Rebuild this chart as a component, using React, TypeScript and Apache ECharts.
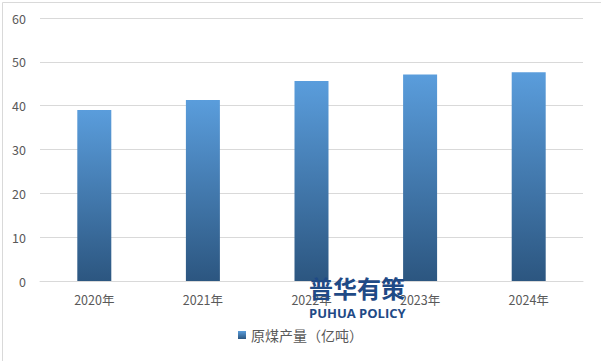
import React, { useEffect, useRef } from "react";
import * as echarts from "echarts";

const categories = ["2020年", "2021年", "2022年", "2023年", "2024年"];
const seriesName = "原煤产量（亿吨）";
const values = [39.0, 41.3, 45.6, 47.1, 47.6];
const yTicks = { min: 0, max: 60, interval: 10 };

export default function App() {
  const ref = useRef<HTMLDivElement>(null);
  useEffect(() => {
    const chart = echarts.init(ref.current!, null, { renderer: "svg" });
    const font = "'Microsoft YaHei', 'Noto Sans CJK SC', 'DejaVu Sans', sans-serif";
    chart.setOption({
      animation: false,
      backgroundColor: "#ffffff",
      textStyle: { fontFamily: font },
      grid: { left: 40, right: 18, top: 18, bottom: 80, containLabel: false },
      legend: {
        bottom: 14,
        left: "center",
        itemWidth: 8,
        itemHeight: 8,
        itemGap: 6,
        icon: "rect",
        textStyle: { fontSize: 14, color: "#595959", fontFamily: font },
        data: [seriesName],
      },
      xAxis: {
        type: "category",
        data: categories,
        axisLine: { lineStyle: { color: "#d9d9d9" } },
        axisTick: { show: false },
        axisLabel: { color: "#595959", fontSize: 12.5, margin: 12 },
      },
      yAxis: {
        type: "value",
        min: yTicks.min,
        max: yTicks.max,
        interval: yTicks.interval,
        axisLine: { show: false },
        axisTick: { show: false },
        axisLabel: { color: "#595959", fontSize: 12.5, margin: 14 },
        splitLine: { lineStyle: { color: "#d9d9d9" } },
      },
      series: [
        {
          name: seriesName,
          type: "bar",
          data: values,
          barWidth: 34,
          itemStyle: {
            color: new echarts.graphic.LinearGradient(0, 0, 0, 1, [
              { offset: 0, color: "#5a9ddc" },
              { offset: 1, color: "#2c5680" },
            ]),
          },
        },
      ],
      graphic: [
        {
          type: "rect",
          left: 0,
          top: 0,
          shape: { width: 600, height: 360 },
          style: { fill: "none", stroke: "#d9d9d9", lineWidth: 1 },
          silent: true,
          z: 100,
        },
        {
          type: "text",
          left: 309,
          top: 275,
          style: {
            text: "普华有策",
            fontSize: 24,
            fontWeight: "bold",
            fill: "#1f4a86",
            fontFamily: "'Noto Sans CJK SC', sans-serif",
          },
          z: 100,
        },
        {
          type: "text",
          left: 309,
          top: 306,
          style: {
            text: "PUHUA POLICY",
            fontSize: 13,
            fontWeight: "bold",
            fill: "#1f4a86",
            fontFamily: "'Open Sans', 'DejaVu Sans', sans-serif",
          },
          z: 100,
        },
      ],
    });
    return () => chart.dispose();
  }, []);
  return (
    <div
      ref={ref}
      style={{ width: 601, height: 361, position: "absolute", left: 0, top: 0 }}
    />
  );
}
